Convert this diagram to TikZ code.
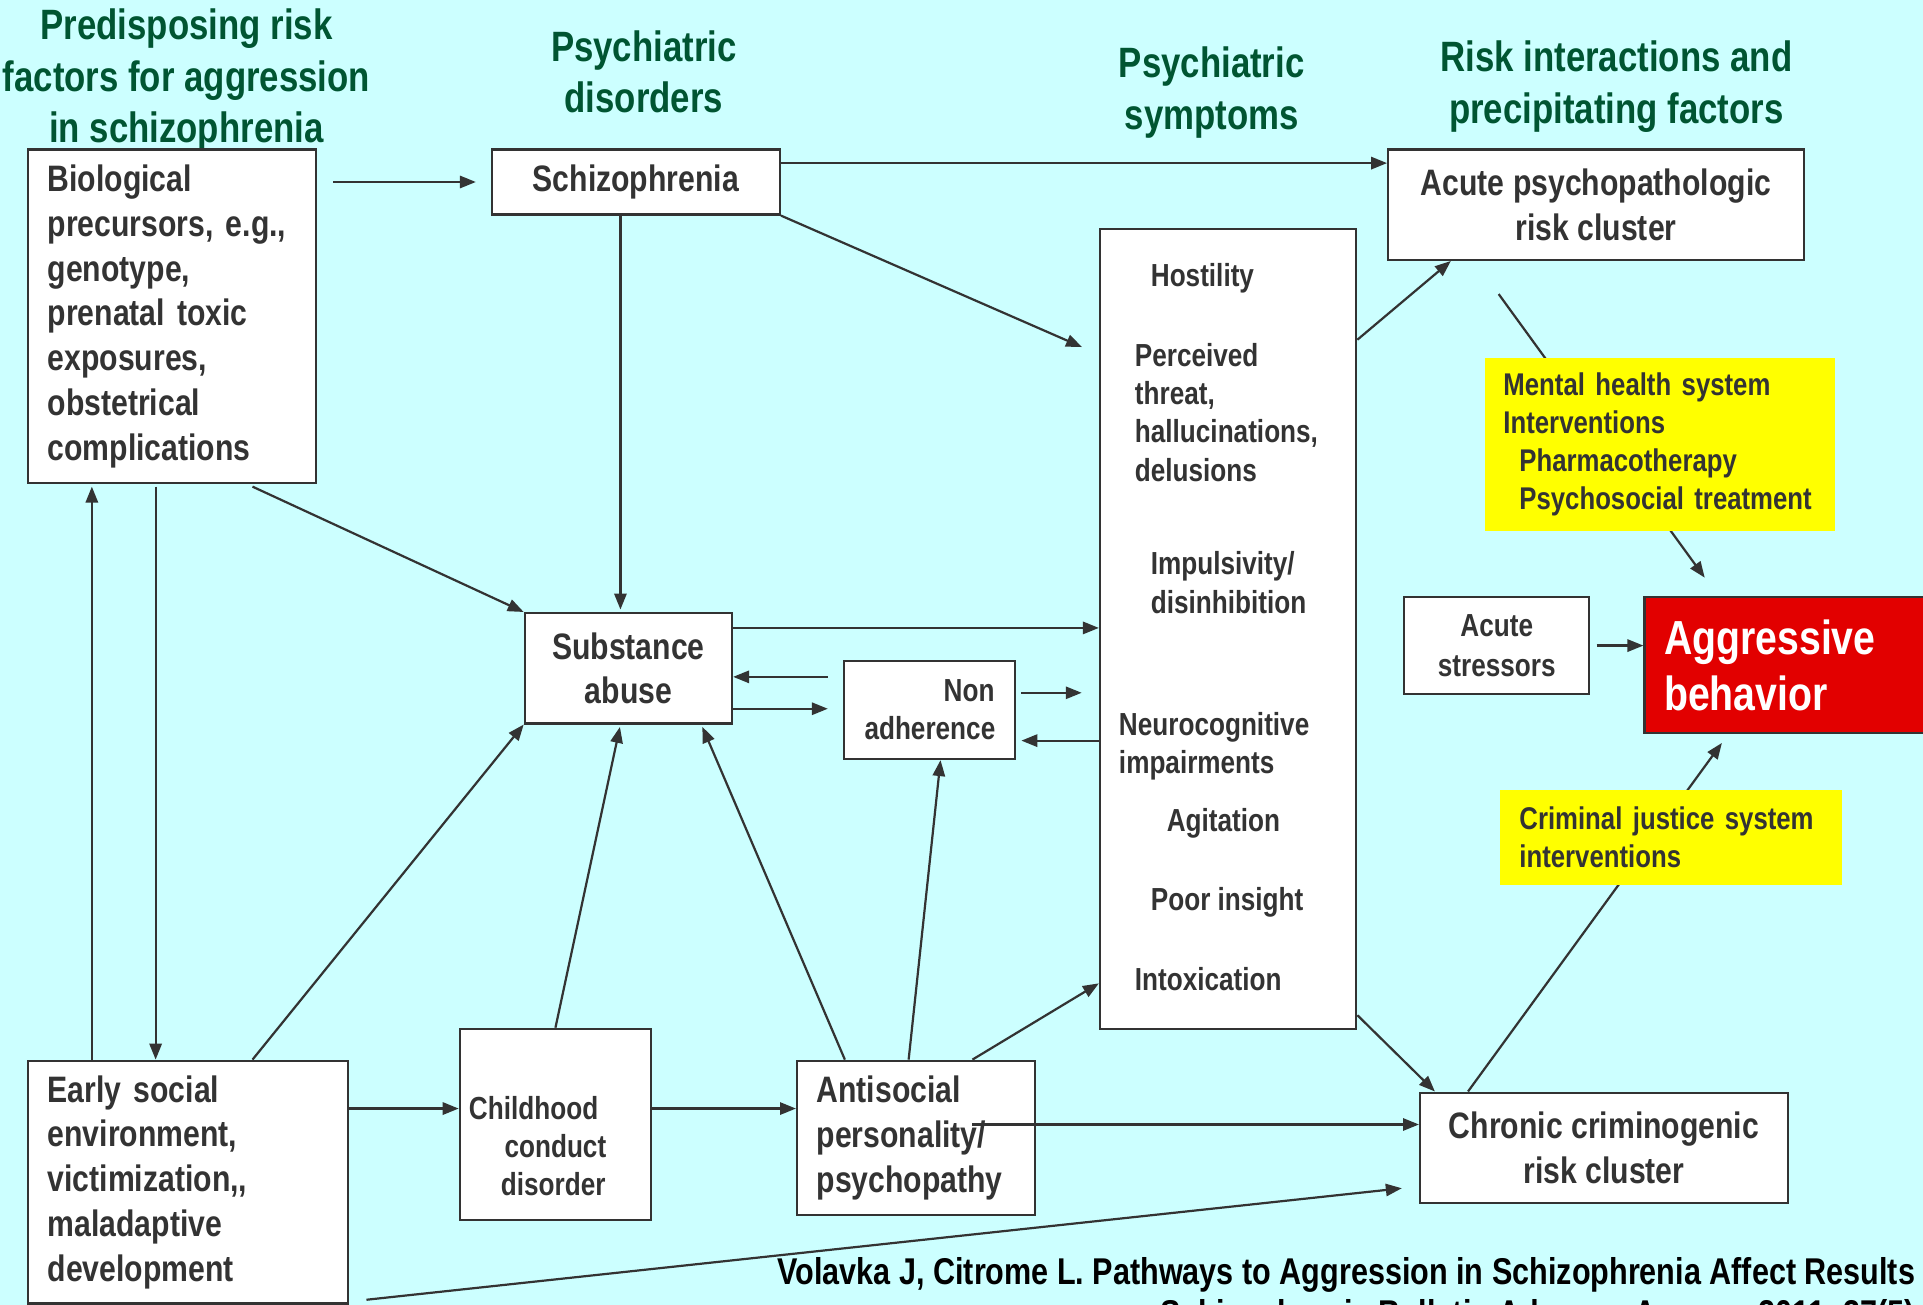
\documentclass[tikz,border=0pt]{standalone}
\usepackage{fontspec}
\setmainfont{Liberation Sans}[FakeStretch=0.82]
\usetikzlibrary{arrows.meta}

\definecolor{bgcyan}{RGB}{204,255,255}
\definecolor{linegray}{RGB}{51,51,51}
\definecolor{headgreen}{RGB}{0,85,50}
\definecolor{noteyellow}{RGB}{255,255,0}
\definecolor{alarmred}{RGB}{226,0,0}

\hyphenpenalty=10000
\exhyphenpenalty=10000

\begin{document}
\begin{tikzpicture}[x=0.5pt,y=-0.5pt]

	\tikzset{BoxStyle/.style = {draw=linegray, fill=white, line width=0.9pt,
			inner sep=0pt, anchor=north west, text=linegray,
			font=\fontsize{15}{18.25}\selectfont\bfseries}}
	\tikzset{SmallStyle/.style = {font=\fontsize{13}{15.6}\selectfont\bfseries}}
	\tikzset{NoteStyle/.style = {BoxStyle, draw=none, fill=noteyellow, align=left,
			font=\fontsize{12.8}{15.6}\selectfont\bfseries}}
	\tikzset{SymStyle/.style = {SmallStyle, text=linegray, inner sep=0pt, anchor=north west, align=left}}
	\tikzset{HeadStyle/.style = {text=headgreen, inner sep=0pt, anchor=north, align=center,
			font=\fontsize{17.3}{21}\selectfont\bfseries}}
	\tikzset{ArrowStyle/.style = {draw=linegray, line width=0.9pt,
			-{Triangle[length=6.5pt,width=5pt]}}}

	\fill[bgcyan] (0,0) rectangle (1568,1064);
	\useasboundingbox (0,0) rectangle (1568,1064);
	\clip (0,0) rectangle (1568,1064);

	% column heads
	\node[HeadStyle] (hrisk) at (152,7) {Predisposing risk\\factors for aggression\\in schizophrenia};
	\node[HeadStyle] (hdis) at (525,24.5) {Psychiatric\\disorders};
	\node[HeadStyle] (hsym) at (988,38) {Psychiatric\\symptoms};
	\node[HeadStyle] (hint) at (1318,33) {Risk interactions and\\precipitating factors};

	% boxes
	\node[BoxStyle, align=left, inner xsep=8pt, text width=101.5pt, minimum height=136pt]
		(bio) at (22,121) {Biological\\precursors, e.g.,\\genotype,\\prenatal toxic\\exposures,\\obstetrical\\complications};
	\node[BoxStyle, minimum width=117.5pt, minimum height=26.5pt] (schiz) at (400,121) {Schizophrenia};
	\node[BoxStyle, align=center, minimum width=169.5pt, minimum height=45pt]
		(acute) at (1131,121) {Acute psychopathologic\\risk cluster};
	\node[BoxStyle, minimum width=104.5pt, minimum height=326pt] (sym) at (896,186) {};
	\node[BoxStyle, align=center, minimum width=84.5pt, minimum height=45pt] (subs) at (427,499) {Substance\\abuse};
	\node[BoxStyle, SmallStyle, align=right, inner xsep=8.5pt, text width=53pt, minimum height=40pt]
		(nonadh) at (687,538) {Non\\adherence};
	\node[BoxStyle, align=left, inner xsep=8pt, text width=114.5pt, minimum height=99pt]
		(early) at (22,864) {Early social\\environment,\\victimization,{},\\maladaptive\\development};
	\node[BoxStyle, minimum width=78pt, minimum height=78pt] (child) at (374,838) {};
	\node[BoxStyle, align=left, inner xsep=8pt, text width=81pt, minimum height=63pt]
		(anti) at (649,864) {Antisocial\\personality/\\psychopathy};
	\node[BoxStyle, align=center, minimum width=150pt, minimum height=45pt]
		(chron) at (1157,890) {Chronic criminogenic\\risk cluster};
	\node[BoxStyle, align=center, minimum width=75.5pt, minimum height=39.5pt,
		font=\fontsize{13}{16}\selectfont\bfseries] (stress) at (1144,486) {Acute\\stressors};
	\node[BoxStyle, fill=alarmred, text=white, align=left, inner xsep=8pt, text width=109pt,
		minimum height=55.5pt, font=\fontsize{19.5}{23}\selectfont\bfseries]
		(aggr) at (1340,486) {Aggressive\\behavior};

	% texts in the boxes
	\node[SymStyle] (hostil) at (938,214.5) {Hostility};
	\node[SymStyle] (threat) at (925,279.5) {Perceived\\threat,\\hallucinations,\\delusions};
	\node[SymStyle] (impuls) at (938,449.5) {Impulsivity/\\disinhibition};
	\node[SymStyle] (neuro) at (912,580.5) {Neurocognitive\\impairments};
	\node[SymStyle] (agit) at (951,658.5) {Agitation};
	\node[SymStyle] (insight) at (938,723.5) {Poor insight};
	\node[SymStyle] (intox) at (925,788.5) {Intoxication};
	\node[SymStyle] (childtxt) at (382,893.5) {Childhood\\\hspace*{14.5pt}conduct\\\hspace*{13pt}disorder};

	% arrows
	\draw[ArrowStyle, shorten <=6.5pt, shorten >=6pt] (bio.east |- schiz.west) -- (schiz.west);
	\draw[ArrowStyle] ([yshift=-6pt]schiz.north east) -- ([yshift=-6pt]acute.north west);
	\draw[ArrowStyle, shorten >=7.5pt] (schiz.south east) -- ([yshift=-51.5pt]sym.north west);
	\coordinate (sv) at ([xshift=-3.25pt]subs.north);
	\draw[ArrowStyle, shorten >=1pt] (sv |- schiz.south) -- (sv);
	\draw[ArrowStyle] ([xshift=32.75pt,yshift=-1pt]bio.south) -- (subs.north west);

	\coordinate (lu) at ([xshift=-39.25pt]early.north);
	\draw[ArrowStyle, shorten >=1pt] (lu) -- (lu |- bio.south);
	\coordinate (ld) at ([xshift=-13.25pt]early.north);
	\draw[ArrowStyle, shorten <=1pt] (ld |- bio.south) -- (ld);

	\draw[ArrowStyle] ([xshift=26.25pt]early.north) -- (subs.south west);
	\draw[ArrowStyle, shorten >=1pt] (child.north) -- ([xshift=-3.25pt]subs.south);
	\draw[ArrowStyle, shorten >=1pt] ([xshift=-29pt]anti.north) -- ([xshift=29.75pt]subs.south);
	\draw[ArrowStyle] ([xshift=-3pt]anti.north) -- ([xshift=4.5pt]nonadh.south);
	\draw[ArrowStyle] ([xshift=23pt]anti.north) -- ([yshift=19pt]sym.south west);

	\coordinate (sr) at ([yshift=-6.5pt]subs.north east);
	\draw[ArrowStyle] (sr) -- (sr -| sym.west);
	\coordinate (nl) at ([yshift=-3.5pt]subs.east);
	\draw[ArrowStyle, shorten <=6pt] (nl -| nonadh.west) -- (nl);
	\coordinate (nr) at ([yshift=-16.5pt]subs.east);
	\draw[ArrowStyle, shorten >=6pt] (nr) -- (nr -| nonadh.west);
	\coordinate (ns) at ([yshift=7pt]nonadh.east);
	\draw[ArrowStyle, shorten <=2pt, shorten >=7pt] (ns) -- (ns -| sym.west);
	\coordinate (sn) at ([yshift=-12.5pt]nonadh.east);
	\draw[ArrowStyle, shorten >=2pt] (sn -| sym.west) -- (sn);

	\coordinate (ec) at ([yshift=6.5pt]child.west);
	\draw[ArrowStyle] (ec -| early.east) -- (ec);
	\draw[ArrowStyle] (ec -| child.east) -- (ec -| anti.west);
	\coordinate (ac) at ([xshift=23pt,yshift=5.5pt]anti.center);
	\draw[ArrowStyle] (ac) -- (ac -| chron.west);
	\draw[ArrowStyle] ([xshift=7pt,yshift=2pt]early.south east) -- ([xshift=-7pt,yshift=-16.5pt]chron.west);

	\draw[ArrowStyle] ([yshift=-45.5pt]sym.north east) -- ([xshift=26pt]acute.south west);
	\draw[ArrowStyle] ([yshift=6pt]sym.south east) -- ([xshift=6.5pt]chron.north west);

	% these two run behind the yellow notes
	\draw[ArrowStyle] ([xshift=20pt]chron.north west) -- ([xshift=32pt,yshift=-3.5pt]aggr.south west);
	\draw[ArrowStyle] ([xshift=45.5pt,yshift=-13.5pt]acute.south west) -- ([xshift=25pt,yshift=7.5pt]aggr.north west);
	\draw[ArrowStyle, shorten <=2.5pt] (stress.east) -- (stress.east -| aggr.west);

	% yellow notes
	\node[NoteStyle, inner xsep=7.5pt, text width=127.5pt, minimum height=70.5pt]
		(mental) at (1210,291) {Mental health system\\Interventions\\\hspace*{6.5pt}Pharmacotherapy\\\hspace*{6.5pt}Psychosocial treatment};
	\node[NoteStyle, inner xsep=8pt, text width=123.5pt, minimum height=39pt]
		(crim) at (1222,643) {Criminal justice system\\interventions};

	% reference
	\node[anchor=north east, align=right, inner sep=0pt, text=black,
		font=\fontsize{15.2}{17}\selectfont\bfseries] (cite) at (1562,1025)
		{Volavka J, Citrome L. Pathways to Aggression in Schizophrenia Affect Results\\Schizophrenia Bulletin Advance Access, 2011; 37(5)};

\end{tikzpicture}
\end{document}
